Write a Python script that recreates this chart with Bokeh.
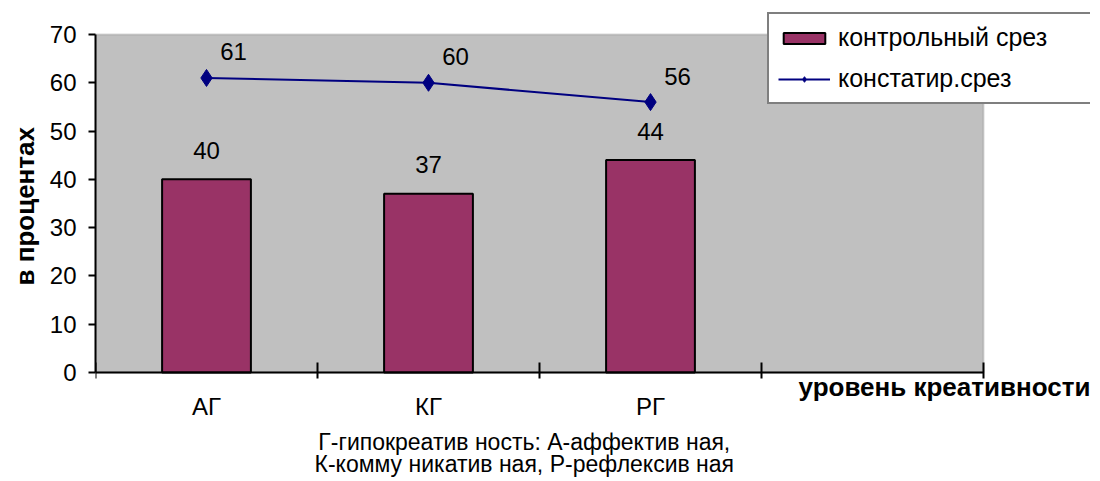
from bokeh.plotting import figure
from bokeh.models import FixedTicker, Range1d, Legend, LegendItem, Label, BoxAnnotation, Title
from bokeh.embed import file_html
from bokeh.resources import INLINE
from bokeh.core.properties import value

# ---- data ----
categories = ["АГ", "КГ", "РГ", ""]
control = [40, 37, 44]
statement = [61, 60, 56]
series_names = ["контрольный срез", "констатир.срез"]
y_ticks = [0, 10, 20, 30, 40, 50, 60, 70]
y_title = "в процентах"
x_title = "уровень креативности"
note_lines = ["Г-гипокреатив ность:  А-аффектив ная,",
              "К-комму никатив ная,  Р-рефлексив ная"]

FONT = "Liberation Sans"
BAR = "#993366"
LINE = "#000080"

n = len(categories)
y_max = y_ticks[-1]
x_all = [i + 0.5 for i in range(n)]
xc = x_all[:len(control)]

# geometry of the frame (pixels)
PX_X = 222.0        # px per category
PX_Y = 338.0 / 70   # px per percent
FRAME_W, FRAME_H = 995, 473
TOP_PAD_PX = 29     # space above 70 inside the frame

x_hi = FRAME_W / PX_X
y_hi = y_max + TOP_PAD_PX / PX_Y
y_lo = y_hi - FRAME_H / PX_Y

p = figure(frame_width=FRAME_W, frame_height=FRAME_H,
           x_range=Range1d(0, x_hi), y_range=Range1d(y_lo, y_hi),
           output_backend="svg", toolbar_location=None,
           min_border_left=89, min_border_right=0, min_border_top=5, min_border_bottom=0)

p.background_fill_color = "white"
p.border_fill_color = "white"
p.outline_line_color = None
p.xgrid.visible = False
p.ygrid.visible = False

# grey plot area
p.add_layout(BoxAnnotation(left=0, right=n, bottom=0, top=y_max,
                           fill_color="#C0C0C0", fill_alpha=1.0,
                           line_color="#808080", line_width=2, level="underlay"))

# y axis
ya = p.yaxis[0]
ya.bounds = (0, y_max)
ya.ticker = FixedTicker(ticks=y_ticks)
ya.axis_line_width = 2
ya.axis_line_color = "black"
ya.major_tick_line_width = 2
ya.major_tick_in = 0
ya.major_tick_out = 7
ya.minor_tick_line_color = None
ya.major_label_text_font = FONT
ya.major_label_text_font_size = "24px"
ya.major_label_text_color = "black"
ya.major_label_standoff = 12

# y axis title, placed beside the 0..70 span
p.add_layout(Title(text=y_title, align="left", offset=193, standoff=14,
                   text_font=FONT, text_font_size="26px", text_font_style="bold",
                   text_color="black"), "left")

# x axis (fixed at y = 0)
xa = p.xaxis[0]
xa.fixed_location = 0
xa.bounds = (0, n)
xa.ticker = FixedTicker(ticks=x_all, minor_ticks=list(range(n + 1)))
xa.axis_line_width = 2
xa.axis_line_color = "black"
xa.major_tick_line_color = None
xa.major_tick_in = 0
xa.major_tick_out = 6
xa.minor_tick_line_color = "black"
xa.minor_tick_line_width = 2
xa.minor_tick_in = 10
xa.minor_tick_out = 6
xa.major_label_overrides = {x: c for x, c in zip(x_all, categories)}
xa.major_label_text_font = FONT
xa.major_label_text_font_size = "24px"
xa.major_label_text_color = "black"
xa.major_label_standoff = 14

# bars
bars = p.vbar(x=xc, top=control, width=0.4, fill_color=BAR, line_color="black", line_width=2)
p.text(x=xc, y=control, text=[str(v) for v in control], x_offset=0, y_offset=-29,
       text_align="center", text_baseline="middle", text_font=value(FONT),
       text_font_size="24px", text_color="black")

# line
ln = p.line(x=xc, y=statement, line_color=LINE, line_width=2)
sc = p.scatter(x=xc, y=statement, marker="diamond", size=17, fill_color=LINE, line_color=LINE)
p.text(x=xc, y=statement, text=[str(v) for v in statement], x_offset=27, y_offset=-26,
       text_align="center", text_baseline="middle", text_font=value(FONT),
       text_font_size="24px", text_color="black")

# legend
legend = Legend(items=[LegendItem(label=series_names[0], renderers=[bars]),
                       LegendItem(label=series_names[1], renderers=[ln, sc])],
                location=(672, 374), orientation="vertical")
legend.border_line_color = "black"
legend.border_line_width = 2
legend.background_fill_color = "white"
legend.background_fill_alpha = 1.0
legend.label_text_font = FONT
legend.label_text_font_size = "25px"
legend.label_text_color = "black"
legend.glyph_width = 52
legend.glyph_height = 14
legend.label_standoff = 8
legend.label_height = 29
legend.label_width = 244
legend.padding = 9
legend.spacing = 12
legend.margin = 0
p.add_layout(legend)

# x axis title and note
p.add_layout(Label(x=3.167, y=-3.1, text=x_title, text_align="left", text_baseline="middle",
                   text_font=FONT, text_font_size="26px", text_font_style="bold", text_color="black"))
p.add_layout(Label(x=1.946, y=-14.29, text=note_lines[0], text_align="center", text_baseline="middle",
                   text_font=FONT, text_font_size="23px", text_color="black"))
p.add_layout(Label(x=1.946, y=-19.05, text=note_lines[1], text_align="center", text_baseline="middle",
                   text_font=FONT, text_font_size="23px", text_color="black"))

open("out.html", "w").write(file_html(p, INLINE))
